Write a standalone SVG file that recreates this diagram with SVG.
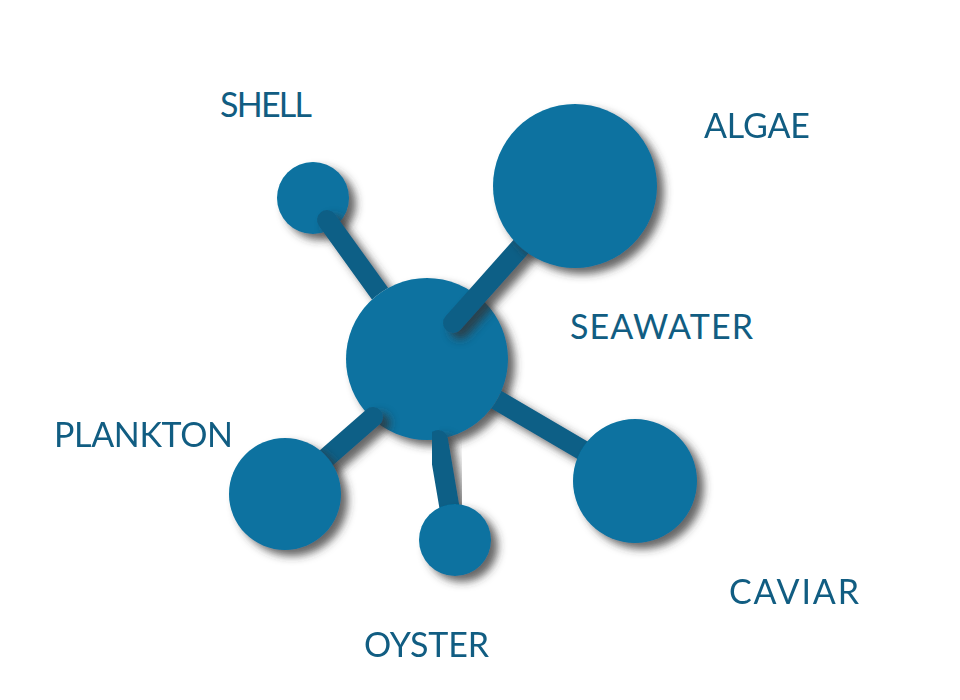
<svg xmlns="http://www.w3.org/2000/svg" width="960" height="700" viewBox="0 0 960 700">
  <style>
    .node { fill: #0872a0; }
    .link { stroke: #0e5f86; stroke-width: 20; stroke-linecap: round; fill: none; }
    .label { font-family: Lato, "Open Sans", sans-serif; font-size: 34px; fill: #115d82; }
  </style>
  <defs>
    <filter id="shadow" x="-30%" y="-30%" width="170%" height="170%">
      <feGaussianBlur in="SourceAlpha" stdDeviation="4.5"/>
      <feOffset dx="7" dy="6" result="b"/>
      <feFlood flood-color="#333333" flood-opacity="0.75"/>
      <feComposite in2="b" operator="in"/>
      <feMerge>
        <feMergeNode/>
        <feMergeNode in="SourceGraphic"/>
      </feMerge>
    </filter>
    <mask id="underCenter" maskUnits="userSpaceOnUse" x="0" y="0" width="960" height="700">
      <rect x="0" y="0" width="960" height="700" fill="#ffffff"/>
      <circle cx="427" cy="359" r="81" fill="#000000"/>
    </mask>
  </defs>
  <rect x="0" y="0" width="960" height="700" fill="#ffffff"/>

  <g id="node-shell">
    <circle class="node" cx="313" cy="198" r="36" filter="url(#shadow)"/>
    <text class="label" x="220" y="117" textLength="92">SHELL</text>
  </g>

  <g id="node-seawater">
    <circle class="node" cx="427" cy="359" r="81" filter="url(#shadow)"/>
    <text class="label" x="570" y="339" textLength="183">SEAWATER</text>
  </g>

  <g id="connectors">
    <g mask="url(#underCenter)">
      <line class="link" x1="327" y1="220" x2="427" y2="359" filter="url(#shadow)"/>
      <line class="link" x1="427" y1="359" x2="635" y2="481" filter="url(#shadow)"/>
    </g>
    <line class="link" x1="453" y1="323" x2="575" y2="186" filter="url(#shadow)"/>
    <line class="link" x1="373" y1="417" x2="285" y2="494" filter="url(#shadow)"/>
    <line class="link" x1="438" y1="440" x2="455" y2="540" filter="url(#shadow)"/>
  </g>

  <g id="node-algae">
    <circle class="node" cx="575" cy="186" r="82" filter="url(#shadow)"/>
    <text class="label" x="704" y="138" textLength="106">ALGAE</text>
  </g>

  <g id="node-plankton">
    <circle class="node" cx="285" cy="494" r="56" filter="url(#shadow)"/>
    <text class="label" x="54" y="447" textLength="179">PLANKTON</text>
  </g>

  <g id="node-oyster">
    <circle class="node" cx="455" cy="540" r="36" filter="url(#shadow)"/>
    <text class="label" x="364" y="657" textLength="125">OYSTER</text>
  </g>

  <g id="node-caviar">
    <circle class="node" cx="635" cy="481" r="62" filter="url(#shadow)"/>
    <text class="label" x="729" y="604" textLength="130">CAVIAR</text>
  </g>
</svg>
